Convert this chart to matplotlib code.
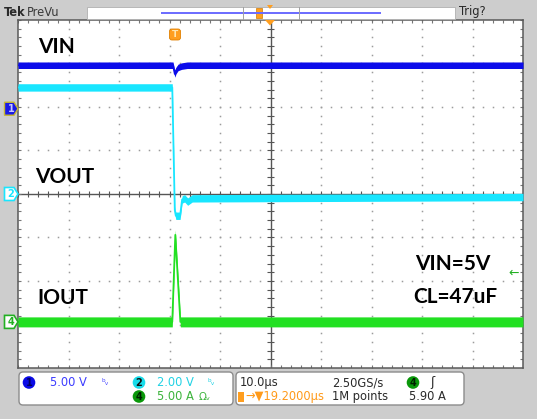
import numpy as np
import matplotlib
matplotlib.use("Agg")
import matplotlib.pyplot as plt
from matplotlib.patches import FancyBboxPatch, Circle, Polygon, Rectangle
from matplotlib import font_manager as fm

# ---------------- data ----------------
# channel 1 : VIN  (V)
vin_t = [-50.0, -19.3, -18.95, -18.7, -18.3, -17.6, -16.5, 50.0]
vin_v = [5.0, 5.0, 4.0, 4.4, 4.75, 4.9, 5.0, 5.0]
# channel 2 : VOUT (V)
vout_t = [-50.0, -19.45, -18.95, -18.75, -17.9, -17.5, -17.0, -16.4, -15.5, 50.0]
vout_v = [4.9, 4.9, -0.75, -1.0, -1.0, -0.25, -0.2, -0.35, -0.2, -0.14]
# channel 4 : IOUT (A)
iout_t = [-50.0, -19.45, -18.85, -17.85, 50.0]
iout_a = [0.0, 0.0, 10.0, 0.0, 0.0]

# channel settings: scale per division, ground position (divisions), noise p-p
ch_names = ["VIN", "VOUT", "IOUT"]
ch_scale = [5.0, 2.0, 5.0]
ch_ground_div = [1.96, 0.0, -2.94]
ch_noise_pp = [0.75, 0.34, 1.15]
ch_colors = ["#0c0cea", "#19e6ff", "#22e022"]
trig_level_a = 5.90

readout_row1 = ["5.00 V", "2.00 V", "10.0µs", "2.50GS/s"]
readout_row2 = ["5.00 A", "→▼19.2000µs", "1M points", "5.90 A"]
annot_left = ["VIN", "VOUT", "IOUT"]
annot_right = ["VIN=5V", "CL=47uF"]

# ---------------- layout ----------------
W, H = 537, 419
PL, PR, PT, PB = 18, 523, 20, 368
GRAY = "#cdcdcd"

fig = plt.figure(figsize=(W / 100, H / 100), dpi=100)
fig.patch.set_facecolor(GRAY)

ax = fig.add_axes([PL / W, 1 - PB / H, (PR - PL) / W, (PB - PT) / H])
ax.set_facecolor("white")
ax.set_xlim(-50, 50)
ax.set_ylim(-4, 4)
ax.set_xticks([])
ax.set_yticks([])
for s in ax.spines.values():
    s.set_color("#5a5a5a")
    s.set_linewidth(1.1)

ov = fig.add_axes([0, 0, 1, 1], zorder=10)
ov.set_xlim(0, W)
ov.set_ylim(H, 0)
ov.axis("off")
ov.patch.set_alpha(0)

# fonts
names = {f.name for f in fm.fontManager.ttflist}
if "Liberation Sans Narrow" in names:
    SF = dict(family="Liberation Sans Narrow", size=10)
elif any(f.name == "DejaVu Sans" and "ondensed" in f.fname for f in fm.fontManager.ttflist):
    SF = dict(family="DejaVu Sans", stretch="condensed", size=9.2)
else:
    SF = dict(family="DejaVu Sans", size=8.3)
BIG = "Lato" if "Lato" in names else "DejaVu Sans"

# ---------------- graticule ----------------
minor_x = np.arange(-50, 50.01, 2)
minor_y = np.arange(-4, 4.01, 0.2)
dot = "#9c9c9c"
for gx in range(-40, 41, 10):
    if gx == 0:
        continue
    ax.plot(np.full_like(minor_y, gx), minor_y, ls="none", marker="s", ms=1.1,
            mew=0, color=dot, zorder=1)
for gy in range(-3, 4):
    if gy == 0:
        continue
    ax.plot(minor_x, np.full_like(minor_x, gy), ls="none", marker="s", ms=1.1,
            mew=0, color=dot, zorder=1)
ax.axhline(0, color="#555555", lw=1.0, zorder=1)
ax.axvline(0, color="#555555", lw=1.0, zorder=1)
ax.vlines(minor_x, -0.07, 0.07, color="#555555", lw=0.8, zorder=1)
ax.hlines(minor_y, -0.6, 0.6, color="#555555", lw=0.8, zorder=1)
ax.vlines(minor_x, 4 - 0.07, 4, color="#777777", lw=0.8, zorder=1)
ax.vlines(minor_x, -4, -4 + 0.07, color="#777777", lw=0.8, zorder=1)
ax.hlines(minor_y, -50, -49.4, color="#777777", lw=0.8, zorder=1)
ax.hlines(minor_y, 49.4, 50, color="#777777", lw=0.8, zorder=1)

# ---------------- traces ----------------
traces = [(vin_t, vin_v), (vout_t, vout_v), (iout_t, iout_a)]
for i in [2, 1, 0]:
    t = np.asarray(traces[i][0])
    d = np.asarray(traces[i][1]) / ch_scale[i] + ch_ground_div[i]
    h = ch_noise_pp[i] / ch_scale[i] / 2
    ax.fill_between(t, d - h, d + h, color=ch_colors[i], lw=0, zorder=3 + i)
    ax.plot(t, d, color=ch_colors[i], lw=1.3, zorder=3 + i)

def div_to_px(d):
    return PT + (4 - d) / 8 * (PB - PT)

# trigger level arrow (ch4)
ax.text(48.2, trig_level_a / ch_scale[2] + ch_ground_div[2] - 0.05, "←", color="#22b022",
        fontsize=9, ha="center", va="center", zorder=8)

# ---------------- annotations ----------------
bigkw = dict(family=BIG, fontweight="bold", fontsize=15, color="black", va="center", ha="left")
ov.text(38, 47, annot_left[0], **bigkw)
ov.text(35, 177, annot_left[1], **bigkw)
ov.text(37, 298, annot_left[2], **bigkw)
ov.text(415, 264, annot_right[0], **bigkw)
ov.text(413, 297, annot_right[1], **bigkw)

# ---------------- ground markers on the left ----------------
marker_labels = ["1", "2", "4"]
for i in range(3):
    y = div_to_px(ch_ground_div[i])
    pts = [(4.5, y - 6.5), (14, y - 6.5), (18, y), (14, y + 6.5), (4.5, y + 6.5)]
    if i == 0:
        ov.add_patch(Polygon(pts, closed=True, fc="#1a1ae6", ec="#c8b830", lw=1.0))
        ov.text(11, y, marker_labels[i], color="#c8c8ff", fontsize=7, ha="center", va="center", fontweight="bold")
    else:
        col = ch_colors[i] if i == 1 else "#22b022"
        ov.add_patch(Polygon(pts, closed=True, fc="white", ec=col, lw=1.2))
        ov.text(11, y, marker_labels[i], color=col, fontsize=7, ha="center", va="center", fontweight="bold")

# trigger position marker "T"
ov.add_patch(FancyBboxPatch((169.5, 29), 11, 11, boxstyle="round,pad=0,rounding_size=2.5",
                            fc="#ff9e1f", ec="#e08000", lw=0.6))
ov.text(175, 34.8, "T", color="#ffe6b0", fontsize=6.5, ha="center", va="center", fontweight="bold")
# horizontal position triangle at top border
ov.add_patch(Polygon([(265, 20), (275, 20), (270, 25.5)], closed=True, fc="#ff9e1f", ec="none"))

# ---------------- top status bar ----------------
ov.text(3.5, 12, "Tek", color="#2a2a2a", ha="left", va="center", fontweight="bold", **SF)
ov.text(27, 12, "PreVu", color="#3a3a3a", ha="left", va="center", **SF)
ov.add_patch(Rectangle((87, 7), 368, 12, fc="white", ec="#b0b0b0", lw=0.6))
ov.plot([161, 381], [13, 13], color="#6a6aff", lw=1.4, solid_capstyle="butt")
ov.plot([243, 243], [7, 19], color="#a0a0a0", lw=0.7)
ov.plot([299, 299], [7, 19], color="#a0a0a0", lw=0.7)
ov.add_patch(Rectangle((256, 8.5), 6, 10, fc="#ff9e1f", ec="#d07a00", lw=0.5))
ov.add_patch(Polygon([(267, 5), (273, 5), (270, 9)], closed=True, fc="#ff9e1f", ec="none"))
ov.text(459, 12, "Trig?", color="#2a2a2a", ha="left", va="center", **SF)

# ---------------- bottom readout ----------------
for (x0, x1) in [(19, 233), (236, 464)]:
    ov.add_patch(FancyBboxPatch((x0, 372), x1 - x0, 33,
                                boxstyle="round,pad=0,rounding_size=4",
                                fc="white", ec="#8c8c8c", lw=1.0))
R1, R2 = 382.5, 396.5

def chan_circle(x, y, fc, label, tc):
    ov.add_patch(Circle((x, y), 6.3, fc=fc, ec="none"))
    ov.text(x, y + 0.3, label, color=tc, fontsize=7, ha="center", va="center", fontweight="bold")

chan_circle(29, R1, "#0a0ae6", "1", "#000060")
ov.text(50, R1, readout_row1[0], color="#3c3cff", ha="left", va="center", **SF)
ov.text(101, R1, "ᵇᵥ", color="#4a4aff", ha="left", va="center", fontsize=6.5)
chan_circle(139, R1, "#19dcea", "2", "#101010")
ov.text(157, R1, readout_row1[1], color="#22d2e4", ha="left", va="center", **SF)
ov.text(208, R1, "ᵇᵥ", color="#22d2e4", ha="left", va="center", fontsize=6.5)
chan_circle(139, R2, "#0a980a", "4", "#002000")
ov.text(157, R2, readout_row2[0], color="#3cb43c", ha="left", va="center", **SF)
ov.text(199, R2, "Ωᵥ", color="#3cb43c", ha="left", va="center", fontsize=7.5)

ov.text(240, R1, readout_row1[2], color="#2a2a2a", ha="left", va="center", **SF)
ov.text(332, R1, readout_row1[3], color="#2a2a2a", ha="left", va="center", **SF)
chan_circle(413, R1, "#0a980a", "4", "#002000")
ov.text(430, R1, "ʃ", color="#2a2a2a", ha="left", va="center", fontsize=9)
ov.add_patch(Rectangle((238, R2 - 5), 6, 10, fc="#ff9e1f", ec="none"))
ov.text(245, R2, readout_row2[1], color="#ff9a1a", ha="left", va="center", **SF)
ov.text(332, R2, readout_row2[2], color="#2a2a2a", ha="left", va="center", **SF)
ov.text(409, R2, readout_row2[3], color="#2a2a2a", ha="left", va="center", **SF)

fig.savefig("out.png", dpi=100, facecolor=GRAY)
